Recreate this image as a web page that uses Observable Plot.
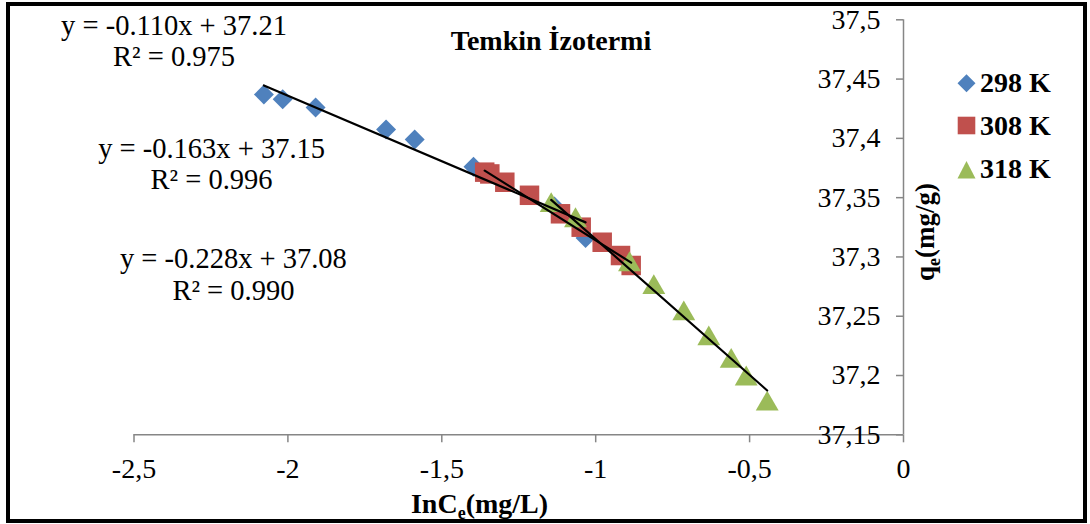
<!DOCTYPE html>
<html>
<head>
<meta charset="utf-8">
<script src="https://cdn.jsdelivr.net/npm/d3@7"></script>
<script src="https://cdn.jsdelivr.net/npm/@observablehq/plot@0.6"></script>
<style>
  html, body { margin: 0; padding: 0; background: #fff; }
  #wrap { position: relative; width: 1090px; height: 524px; overflow: hidden; background: #fff;
          font-family: "Liberation Serif", "Times New Roman", serif; }
  #wrap > svg { position: absolute; left: 0; top: 0; }
  #frame { position: absolute; left: 6px; top: 2px; width: 1081px; height: 521px;
           border: 4px solid #000; box-sizing: border-box; pointer-events: none; }
</style>
</head>
<body>
<div id="wrap"></div>
<script>
// ---- data ----
const series = ["298 K", "308 K", "318 K"];
const colors = ["#4F81BD", "#C0504D", "#9BBB59"];

const lnCe298 = [-2.078, -2.017, -1.910, -1.681, -1.588, -1.397, -1.134, -1.033];
const qe298   = [37.437, 37.433, 37.426, 37.4075, 37.399, 37.376, 37.3425, 37.316];

const lnCe308 = [-1.3606, -1.344, -1.2953, -1.2151, -1.1144, -1.0471, -0.9789, -0.9194, -0.8847];
const qe308   = [37.3715, 37.370, 37.363, 37.352, 37.3364, 37.3251, 37.3124, 37.3012, 37.2928];

const lnCe318 = [-1.1446, -1.0656, -0.8902, -0.8112, -0.7138, -0.6326, -0.5598, -0.5110, -0.4428];
const qe318   = [37.3434, 37.3307, 37.2936, 37.2743, 37.2521, 37.231, 37.2121, 37.1972, 37.1761];

// linear trend lines (as drawn)
const slopes     = [-0.1105, -0.163, -0.229];
const intercepts = [37.215, 37.151, 37.086];

// equation labels
const eqLines = ["y = -0.110x + 37.21", "y = -0.163x + 37.15", "y = -0.228x + 37.08"];
const r2Lines = ["R² = 0.975", "R² = 0.996", "R² = 0.990"];

const xTicks = [-2.5, -2, -1.5, -1, -0.5, 0];
const yTicks = [37.15, 37.2, 37.25, 37.3, 37.35, 37.4, 37.45, 37.5];

const titleText = "Temkin İzotermi";

// ---- build tables ----
const xs = [lnCe298, lnCe308, lnCe318];
const ys = [qe298, qe308, qe318];
const points = [];
series.forEach((s, i) => xs[i].forEach((x, j) => points.push({series: s, x, y: ys[i][j]})));

const trend = [];
series.forEach((s, i) => {
  const [lo, hi] = d3.extent(xs[i]);
  [lo, hi].forEach(x => trend.push({series: s, x, y: slopes[i] * x + intercepts[i]}));
});

// annotation anchors (data space) for the equation blocks
const eqPos = [{x: -2.370, y: 37.4609}, {x: -2.248, y: 37.3569}, {x: -2.177, y: 37.2641}];
const eqRows = eqLines.map((t, i) => ({text: t + "\n" + r2Lines[i], ...eqPos[i]}));

const fmt = d => String(d).replace(".", ",");
const axisGray = "#868686";
const symbols = ["diamond2", "square", "triangle"];
const radii = [9, 11, 8.5];

const plot = Plot.plot({
  width: 1090,
  height: 524,
  marginLeft: 133.5,
  marginRight: 187,
  marginTop: 19.3,
  marginBottom: 89.7,
  style: {fontFamily: "Liberation Serif, Times New Roman, serif", background: "transparent", color: "#000"},
  x: {domain: [-2.5, 0]},
  y: {domain: [37.15, 37.5]},
  marks: [
    Plot.ruleY([37.15], {stroke: axisGray, strokeWidth: 1.5}),
    Plot.ruleX([0], {stroke: axisGray, strokeWidth: 1.5}),
    Plot.axisX({ticks: xTicks, tickFormat: fmt, tickSize: 8, tickPadding: 15, stroke: axisGray,
                strokeWidth: 1.5, fill: "#000", fontSize: 28, label: null}),
    Plot.axisY({ticks: yTicks, tickFormat: fmt, anchor: "left", frameAnchor: "right", tickSize: 7,
                tickPadding: 16, stroke: axisGray, strokeWidth: 1.5, fill: "#000", fontSize: 28, label: null}),
    ...series.map((s, i) => Plot.dot(points.filter(d => d.series === s), {
      x: "x", y: "y", symbol: () => symbols[i], fill: colors[i], r: radii[i], stroke: "none"
    })),
    Plot.line(trend, {x: "x", y: "y", z: "series", stroke: "#000", strokeWidth: 2.2}),
    Plot.text(eqRows, {x: "x", y: "y", text: "text", textAnchor: "middle", lineAnchor: "bottom",
                       lineHeight: 1.11, fontSize: 28.5, fill: "#000"})
  ]
});

const wrap = document.getElementById("wrap");
wrap.appendChild(plot);

// ---- overlay: title, axis titles, legend ----
const ov = d3.select(wrap).append("svg")
  .attr("width", 1090).attr("height", 524)
  .style("position", "absolute").style("left", 0).style("top", 0)
  .style("font-family", "Liberation Serif, Times New Roman, serif");

ov.append("text").attr("x", 551).attr("y", 50).attr("text-anchor", "middle")
  .attr("font-size", 28).attr("font-weight", "bold").text(titleText);

// x axis title
const xt = ov.append("text").attr("x", 479.5).attr("y", 513).attr("text-anchor", "middle")
  .attr("font-size", 28).attr("font-weight", "bold");
xt.append("tspan").text("InC");
xt.append("tspan").attr("font-size", 18).attr("dy", 6).text("e");
xt.append("tspan").attr("dy", -6).text("(mg/L)");

// y axis title
const yt = ov.append("text").attr("transform", "translate(934,232) rotate(-90)")
  .attr("text-anchor", "middle").attr("font-size", 27).attr("font-weight", "bold");
yt.append("tspan").text("q");
yt.append("tspan").attr("font-size", 18).attr("dy", 6).text("e");
yt.append("tspan").attr("dy", -6).text("(mg/g)");

// legend
const legY = [83.3, 125.5, 170];
const legBase = [91.7, 135, 178.3];
const symPath = [
  "M0,-9L9,0L0,9L-9,0Z",
  "M-8.8,-8.8H8.8V8.8H-8.8Z",
  "M0,-9L9,8.5L-9,8.5Z"
];
series.forEach((s, i) => {
  ov.append("path").attr("transform", `translate(966.5,${legY[i]})`).attr("d", symPath[i]).attr("fill", colors[i]);
  ov.append("text").attr("x", 980).attr("y", legBase[i]).attr("font-size", 28).attr("font-weight", "bold").text(s);
});

const frame = document.createElement("div");
frame.id = "frame";
wrap.appendChild(frame);
</script>
</body>
</html>
